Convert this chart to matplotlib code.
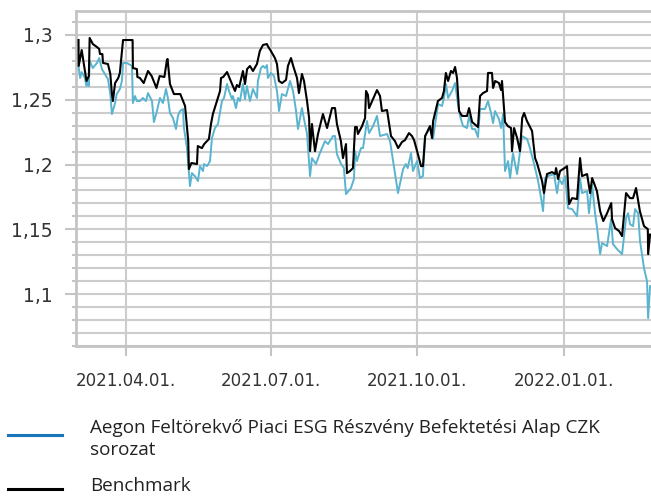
import numpy as np
import pandas as pd
import matplotlib
matplotlib.use("Agg")
import matplotlib.pyplot as plt
from matplotlib.ticker import MultipleLocator, FuncFormatter
from matplotlib.lines import Line2D

# adatok (napok 2021.03.01-tol, ertekek a grafikonrol leolvasva)
start = pd.Timestamp("2021-03-01")

fund_days = [1, 2, 3, 5, 6, 7, 7.5, 8, 10, 12.6, 14, 15.7, 17.6, 19.5, 21, 22, 24, 25, 27, 28.3,
             29, 31.4, 34.6, 35.2, 36.5, 37.7, 39.6, 41.5, 43.4, 44.7, 47.2, 48.4, 50.3, 52.2, 54.1, 56, 57.2, 58.5, 60.4, 62.3,
             63.5, 64.8, 66.7, 67.3, 69.2, 71.1, 72.3, 74.2, 76.1, 77.4, 79.3, 79.9, 81.8, 83.7, 84.9, 86.8, 88.7, 91.2, 92.5, 94.4,
             95.6, 97.5, 98.1, 100, 101.3, 102.5, 104.4, 105.7, 106.9, 108.8, 110.7, 113.2, 113.8, 115.7, 117, 118.3, 119.5, 120.1, 122, 123.9,
             125.8, 127.1, 128.9, 131.5, 134, 135.9, 137.8, 139, 141.5, 142.8, 144.7, 146.6, 147.8, 150.3, 152.8, 156, 157.9, 161, 162.3, 163.5,
             166.1, 167.9, 169.2, 172.3, 174.2, 174.9, 176.1, 178.6, 179.9, 182.4, 183.7, 186.2, 188.7, 190.6, 195, 196.9, 198.8, 201.9, 205.1, 206.9,
             208, 210.1, 211.3, 213.9, 215.7, 217.6, 218.9, 222, 223.9, 227.1, 229.6, 230.8, 232.1, 233.4, 235.9, 237.8, 239.6, 240.9, 242.8, 245.3,
             246.6, 248.5, 250.3, 252.2, 253.5, 256.6, 258.5, 260.4, 261.7, 262.9, 265.4, 266.7, 268, 269.2, 271.1, 272.4, 274.2, 275.5, 276.8, 279.9,
             283.1, 284.9, 287.5, 290, 291.9, 293.1, 294.4, 296.3, 300, 301.9, 303.2, 305.1, 307, 308.8, 311.4, 314.5, 316.4, 317.6, 320.8, 322,
             323.9, 325.8, 327.1, 329, 330.2, 333.4, 335.9, 337.1, 339.7, 342.8, 345.3, 346.6, 347.8, 349.7, 351, 352.9, 354.1, 356.6, 358.5, 359.2,
             360.4]
fund_vals = [1.2761, 1.2668, 1.2714, 1.2668, 1.2606, 1.2645, 1.2606, 1.2800, 1.2745, 1.2784, 1.2822, 1.2737, 1.2699, 1.2660, 1.2544, 1.2390, 1.2475, 1.2544, 1.2583, 1.2645,
             1.2784, 1.2784, 1.2761, 1.2475, 1.2529, 1.2490, 1.2490, 1.2514, 1.2490, 1.2552, 1.2490, 1.2328, 1.2413, 1.2514, 1.2475, 1.2583, 1.2514, 1.2398, 1.2359, 1.2274,
             1.2375, 1.2413, 1.2429, 1.2282, 1.2127, 1.1834, 1.1934, 1.1911, 1.1873, 1.1988, 1.1950, 1.2004, 1.1988, 1.2027, 1.2205, 1.2282, 1.2313, 1.2490, 1.2514, 1.2622,
             1.2568, 1.2506, 1.2529, 1.2436, 1.2514, 1.2490, 1.2622, 1.2506, 1.2606, 1.2490, 1.2583, 1.2514, 1.2645, 1.2745, 1.2761, 1.2745, 1.2768, 1.2668, 1.2707, 1.2683,
             1.2568, 1.2413, 1.2544, 1.2529, 1.2645, 1.2568, 1.2413, 1.2274, 1.2436, 1.2351, 1.2236, 1.1911, 1.2050, 1.2004, 1.2089, 1.2181, 1.2158, 1.2220, 1.2220, 1.2081,
             1.2004, 1.1973, 1.1772, 1.1819, 1.1888, 1.2104, 1.2027, 1.2127, 1.2127, 1.2336, 1.2243, 1.2297, 1.2375, 1.2220, 1.2236, 1.2181, 1.2027, 1.1780, 1.1965, 1.2004,
             1.1973, 1.2089, 1.1950, 1.2027, 1.1896, 1.1911, 1.2220, 1.2282, 1.2197, 1.2467, 1.2452, 1.2514, 1.2622, 1.2514, 1.2568, 1.2629, 1.2467, 1.2375, 1.2297, 1.2282,
             1.2375, 1.2274, 1.2274, 1.2212, 1.2429, 1.2429, 1.2490, 1.2398, 1.2320, 1.2413, 1.2351, 1.2282, 1.2390, 1.1950, 1.2027, 1.1896, 1.2089, 1.2004, 1.1927, 1.2220,
             1.2197, 1.2127, 1.2004, 1.1873, 1.1741, 1.1641, 1.1896, 1.1911, 1.1927, 1.1780, 1.1888, 1.1849, 1.1911, 1.1664, 1.1656, 1.1602, 1.1896, 1.1780, 1.1795, 1.1625,
             1.1849, 1.1625, 1.1510, 1.1309, 1.1394, 1.1371, 1.1579, 1.1386, 1.1347, 1.1309, 1.1587, 1.1625, 1.1540, 1.1525, 1.1656, 1.1625, 1.1409, 1.1201, 1.1100, 1.0815,
             1.1062]

bench_days = [1, 1.1, 3, 6, 7.5, 8, 10, 12.6, 14, 14.5, 16, 16.4, 19.5, 21, 22, 22.6, 24, 26, 27, 29,
              35, 35.2, 37.7, 38, 39.6, 42, 44.7, 47, 50, 52, 55, 56.6, 57, 58.5, 61, 65, 66, 68, 70, 70.4,
              72, 75.5, 76, 78.6, 80, 83, 84.3, 85.5, 90, 90.6, 92, 94.4, 97.5, 99.4, 100.6, 102, 104.4, 105.7, 107, 108.8,
              110.7, 113.2, 115, 117, 119.5, 120, 122, 124.5, 125.8, 127, 129, 131.5, 132.7, 134.6, 136, 138.4, 139.6, 141.5, 142.8, 144.7,
              146, 146.6, 147.8, 149.7, 151.6, 154.7, 157.3, 160.4, 162.3, 163.5, 166, 167.3, 169.2, 169.8, 171.7, 173.6, 174.9, 176, 176.7, 179.3,
              181.2, 181.8, 183, 183.7, 186.2, 188.7, 190.6, 191.8, 195, 197.5, 200, 202, 204.4, 206.3, 208.8, 210.7, 212, 213.9, 216.4, 217.6,
              219, 222, 223.3, 224, 227, 229.6, 230.8, 232, 233.4, 235.2, 236.5, 237.8, 239, 240.3, 242.2, 245.3, 246.6, 248.5, 252.2, 253.5,
              255.4, 257.9, 258.5, 261, 261.7, 263, 265.4, 266.7, 267.3, 269.2, 271, 273, 273.6, 274.9, 276.8, 278.6, 280, 281.2, 283, 286.2,
              288.1, 289.3, 292.5, 293.7, 295.6, 298.8, 300.7, 301.3, 302.6, 303.8, 307.6, 308.2, 309.5, 311.4, 314.5, 316.4, 317.6, 320.8, 322.7, 324,
              327, 329, 331, 333.4, 336, 336.5, 338.4, 341, 342.8, 345.3, 347.8, 349.7, 351.6, 354, 356.6, 359, 359.2, 360.4]
bench_vals = [1.2961, 1.2761, 1.2884, 1.2645, 1.2683, 1.2977, 1.2930, 1.2907, 1.2892, 1.2853, 1.2853, 1.2784, 1.2776, 1.2699, 1.2544, 1.2490, 1.2629, 1.2668, 1.2707, 1.2961,
              1.2961, 1.2745, 1.2737, 1.2676, 1.2668, 1.2629, 1.2722, 1.2683, 1.2591, 1.2683, 1.2676, 1.2807, 1.2815, 1.2622, 1.2544, 1.2544, 1.2514, 1.2452, 1.2181, 1.1965,
              1.2012, 1.2004, 1.2143, 1.2127, 1.2158, 1.2197, 1.2313, 1.2390, 1.2568, 1.2668, 1.2676, 1.2714, 1.2622, 1.2568, 1.2614, 1.2598, 1.2722, 1.2622, 1.2737, 1.2761,
              1.2722, 1.2776, 1.2876, 1.2923, 1.2930, 1.2915, 1.2876, 1.2822, 1.2776, 1.2645, 1.2629, 1.2653, 1.2761, 1.2822, 1.2761, 1.2668, 1.2552, 1.2699, 1.2645, 1.2490,
              1.2359, 1.2104, 1.2313, 1.2104, 1.2236, 1.2390, 1.2282, 1.2436, 1.2436, 1.2313, 1.2181, 1.2050, 1.2158, 1.1934, 1.1950, 1.1973, 1.2290, 1.2290, 1.2236, 1.2297,
              1.2359, 1.2568, 1.2537, 1.2436, 1.2506, 1.2575, 1.2529, 1.2413, 1.2421, 1.2220, 1.2181, 1.2127, 1.2174, 1.2189, 1.2243, 1.2220, 1.2189, 1.2104, 1.1988, 1.1988,
              1.2220, 1.2297, 1.2205, 1.2336, 1.2490, 1.2514, 1.2568, 1.2707, 1.2645, 1.2722, 1.2707, 1.2753, 1.2668, 1.2413, 1.2375, 1.2375, 1.2436, 1.2328, 1.2290, 1.2529,
              1.2552, 1.2568, 1.2707, 1.2707, 1.2591, 1.2645, 1.2629, 1.2575, 1.2645, 1.2328, 1.2297, 1.2282, 1.2104, 1.2282, 1.2205, 1.2104, 1.2359, 1.2398, 1.2336, 1.2259,
              1.2050, 1.2012, 1.1873, 1.1780, 1.1927, 1.1942, 1.1927, 1.1973, 1.1888, 1.1950, 1.1981, 1.1988, 1.1695, 1.1741, 1.1734, 1.2050, 1.1911, 1.1927, 1.1780, 1.1896,
              1.1795, 1.1641, 1.1564, 1.1625, 1.1703, 1.1579, 1.1510, 1.1486, 1.1448, 1.1780, 1.1741, 1.1741, 1.1819, 1.1641, 1.1525, 1.1502, 1.1309, 1.1460]

tick_dates = ["2021-04-01", "2021-07-01", "2021-10-01", "2022-01-01"]
tick_labels = ["2021.04.01.", "2021.07.01.", "2021.10.01.", "2022.01.01."]
fund_label = "Aegon Feltörekvő Piaci ESG Részvény Befektetési Alap CZK\nsorozat"
bench_label = "Benchmark"

fund_dates = start + pd.to_timedelta(fund_days, unit="D")
bench_dates = start + pd.to_timedelta(bench_days, unit="D")

grid_c = "#cccccc"
fund_c = "#5ab4cf"

fig = plt.figure(figsize=(6.51, 4.98), dpi=100)
ax = fig.add_axes([76 / 651, 1 - 346 / 498, 1 - 76 / 651, 335 / 498])

ax.plot(fund_dates, fund_vals, color=fund_c, lw=1.4, zorder=3)
ax.plot(bench_dates, bench_vals, color="black", lw=1.5, zorder=4)

ax.set_xlim(start - pd.Timedelta(hours=14), start + pd.Timedelta(days=361))
ax.set_ylim(1.06, 1.3185)

ax.yaxis.set_major_locator(MultipleLocator(0.05))
ax.yaxis.set_minor_locator(MultipleLocator(0.01))
ax.yaxis.set_major_formatter(FuncFormatter(lambda v, p: f"{v:g}".replace(".", ",")))
ax.set_xticks(pd.to_datetime(tick_dates))
ax.set_xticklabels(tick_labels)

ax.grid(True, which="both", axis="y", color=grid_c, lw=1.5, zorder=0)
ax.grid(True, which="major", axis="x", color=grid_c, lw=1.5, zorder=0)

for s in ["top", "left", "bottom"]:
    ax.spines[s].set_color("#c4c4c4")
    ax.spines[s].set_linewidth(2)
ax.spines["right"].set_visible(False)

ax.tick_params(axis="y", which="major", length=8, width=1.5, color="#c4c4c4",
               pad=9, labelsize=13.5, labelcolor="#333333")
ax.tick_params(axis="y", which="minor", length=3, width=1.5, color="#c4c4c4")
ax.tick_params(axis="x", which="major", length=7, width=1.5, color="#c4c4c4",
               pad=12, labelsize=12, labelcolor="#333333")

# jelmagyarazat
fig.add_artist(Line2D([8 / 651, 62 / 651], [1 - 435 / 498] * 2, color="#1b75bb", lw=2.2))
fig.add_artist(Line2D([8 / 651, 62 / 651], [1 - 489 / 498] * 2, color="black", lw=2.2))
fig.text(90 / 651, 1 - 419 / 498, fund_label, fontsize=13.6, color="#222222",
         va="top", ha="left", linespacing=1.32, family="Open Sans")
fig.text(90 / 651, 1 - 491 / 498, bench_label, fontsize=13.6, color="#222222",
         va="baseline", ha="left", family="Open Sans")

fig.savefig("out.png", dpi=100)
